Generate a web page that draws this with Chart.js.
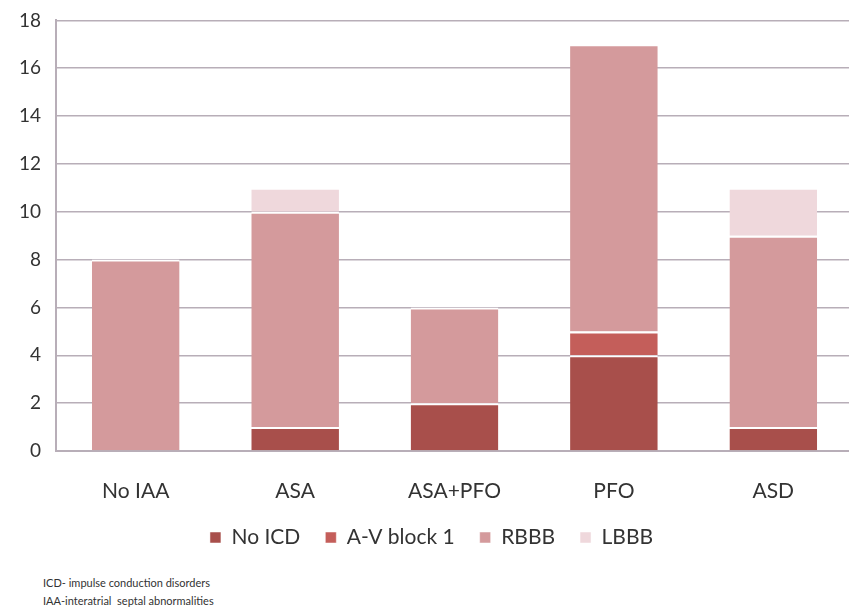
<!DOCTYPE html>
<html><head><meta charset="utf-8">
<script src="https://cdn.jsdelivr.net/npm/chart.js@4"></script>
<style>
html,body{margin:0;padding:0;background:#fff;overflow:hidden;width:849px;height:615px;}
#wrap{position:absolute;left:0;top:0;width:853px;height:552px;}
.note{position:absolute;left:43px;font-family:Lato,'Liberation Sans',sans-serif;font-size:11px;color:#333;}
</style></head>
<body>
<div id="wrap"><canvas id="c"></canvas></div>
<div class="note" style="top:576px">ICD- impulse conduction disorders</div>
<div class="note" style="top:594px">IAA-interatrial&nbsp; septal abnormalities</div>
<script>
const categories = ['No IAA','ASA','ASA+PFO','PFO','ASD'];
const noICD = [0,1,2,4,1];
const avBlock1 = [0,0,0,1,0];
const rbbb = [8,9,4,12,8];
const lbbb = [0,1,0,0,2];
const yTicks = [0,2,4,6,8,10,12,14,16,18];

const font = "Lato, 'Liberation Sans', sans-serif";
const legendHeight = {
  id:'legendHeight',
  beforeLayout(chart){
    const lg = chart.legend;
    if (lg && !lg._patched){
      const f = lg.fit;
      lg.fit = function(){ f.call(this); this.height = 50; };
      lg._patched = true;
    }
  }
};
new Chart(document.getElementById('c'), {
  type:'bar',
  data:{labels:categories, datasets:[
    {label:'No ICD', data:noICD, backgroundColor:'#a84f4b'},
    {label:'A-V block 1', data:avBlock1, backgroundColor:'#c45e5a'},
    {label:'RBBB', data:rbbb, backgroundColor:'#d49a9c'},
    {label:'LBBB', data:lbbb, backgroundColor:'#efd8dc'}
  ].map(d=>Object.assign(d,{borderColor:'#ffffff',borderWidth:{top:2,bottom:0,left:0,right:0},borderSkipped:false,categoryPercentage:0.55,barPercentage:1}))},
  options:{
    responsive:true, maintainAspectRatio:false, animation:false,
    layout:{padding:{left:10,top:0,right:0,bottom:0}},
    plugins:{
      legend:{position:'bottom', labels:{boxWidth:11,boxHeight:11,color:'#333',font:{family:font,size:21,lineHeight:1},padding:25}},
      tooltip:{enabled:false}
    },
    scales:{
      x:{stacked:true, grid:{display:false,drawTicks:true,tickLength:30}, border:{color:'#b8aeb8',width:2},
         ticks:{color:'#333',font:{family:font,size:21,lineHeight:1},padding:0}},
      y:{stacked:true, min:0, max:18, afterBuildTicks:ax=>{ax.ticks=yTicks.map(v=>({value:v}));},
         grid:{color:'#b8aeb8',lineWidth:1.5,drawTicks:true,tickLength:6,tickColor:'rgba(0,0,0,0)'}, border:{color:'#b8aeb8',width:2},
         ticks:{color:'#333',font:{family:font,size:19},padding:9}}
    }
  },
  plugins:[legendHeight]
});
</script>
</body></html>
